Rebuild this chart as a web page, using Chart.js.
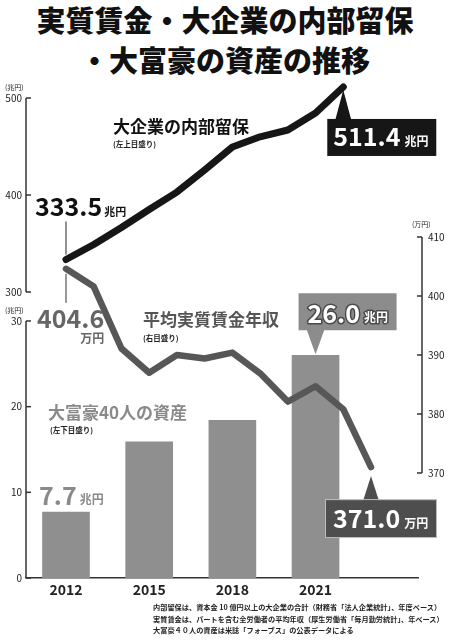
<!DOCTYPE html>
<html><head><meta charset="utf-8">
<script src="https://cdn.jsdelivr.net/npm/chart.js@4.4.1/dist/chart.umd.min.js"></script>
<style>
html,body{margin:0;padding:0;background:#fff;}
#wrap{position:relative;width:450px;height:640px;overflow:hidden;font-family:"Noto Sans CJK JP","Noto Sans",sans-serif;}
#cv{position:absolute;left:0;top:0;}
.title{position:absolute;left:0;width:450px;text-align:center;font-weight:900;font-size:29px;color:#111;line-height:1;}
.note{position:absolute;left:153px;top:602px;font-size:7.2px;line-height:11.6px;color:#222;white-space:nowrap;font-weight:700;}
</style></head>
<body><div id="wrap">
<div class="title" style="top:5px">実質賃金・大企業の内部留保</div>
<div class="title" style="top:45px">・大富豪の資産の推移</div>
<canvas id="cv" width="450" height="640"></canvas>
<div class="note">内部留保は、資本金 10 億円以上の大企業の合計（財務省「法人企業統計」、年度ベース）<br>実質賃金は、パートを含む全労働者の平均年収（厚生労働省「毎月勤労統計」、年ベース）<br>大富豪４０人の資産は米誌「フォーブス」の公表データによる</div>
</div>
<script>
// ---- data ----
const reserveYears = [2012, 2013, 2014, 2015, 2016, 2017, 2018, 2019, 2020, 2021, 2022];
const reserveValues = [333.5, 349.0, 366.5, 385.0, 403.0, 425.8, 449.5, 460.0, 467.0, 484.5, 511.4];
const wageYears = [2012, 2013, 2014, 2015, 2016, 2017, 2018, 2019, 2020, 2021, 2022, 2023];
const wageValues = [404.6, 401.6, 391.1, 387.0, 390.0, 389.4, 390.4, 386.9, 382.1, 384.7, 380.8, 371.0];
const assetYears = [2012, 2015, 2018, 2021];
const assetValues = [7.7, 15.9, 18.4, 26.0];
const xTickYears = [2012, 2015, 2018, 2021];
const reserveTicks = [300, 400, 500];
const assetTicks = [0, 10, 20, 30];
const wageTicks = [370, 380, 390, 400, 410];

const FONT = '"Noto Sans CJK JP","Noto Sans",sans-serif';
const toXY = (xs, ys) => xs.map((x, i) => ({x: x, y: ys[i]}));

const decor = {
  id: 'decor',
  afterDatasetsDraw(chart) {
    const c = chart.ctx;
    const sc = chart.scales;
    c.save();
    c.strokeStyle = '#333'; c.lineWidth = 1.5; c.lineCap = 'butt';
    function vAxis(scale, ticks, x, dir) {
      const y1 = scale.getPixelForValue(ticks[0]);
      const y2 = scale.getPixelForValue(ticks[ticks.length - 1]);
      c.beginPath(); c.moveTo(x, y1); c.lineTo(x, y2); c.stroke();
      ticks.forEach(t => {
        const y = scale.getPixelForValue(t);
        c.beginPath(); c.moveTo(x, y); c.lineTo(x + dir * 5, y); c.stroke();
      });
    }
    const lx = chart.chartArea.left;
    const rx = chart.chartArea.right + 4;
    vAxis(sc.yRes, reserveTicks, lx, 1);
    vAxis(sc.yAst, assetTicks, lx, 1);
    vAxis(sc.yWage, wageTicks, rx, -1);
    c.fillStyle = '#222'; c.font = '7px ' + FONT; c.textBaseline = 'alphabetic';
    c.textAlign = 'left';
    c.fillText('(兆円)', 5, sc.yRes.getPixelForValue(500) - 8);
    c.fillText('(兆円)', 5, sc.yAst.getPixelForValue(30) - 8);
    c.fillText('(万円)', rx - 10, sc.yWage.getPixelForValue(410) - 10);

    function pt(di, i) { const e = chart.getDatasetMeta(di).data[i]; return {x: e.x, y: e.y}; }
    function txt(s, x, y, font, color, align) {
      c.font = font; c.fillStyle = color; c.textAlign = align || 'left'; c.fillText(s, x, y);
      return c.measureText(s).width;
    }
    function box(px, tipY, left, top, w, h, fill, up) {
      c.fillStyle = fill;
      c.beginPath();
      if (up) { c.moveTo(px, tipY); c.lineTo(px - 8, top + 1); c.lineTo(px + 8, top + 1); }
      else { c.moveTo(px, tipY); c.lineTo(px - 9, top + h - 1); c.lineTo(px + 9, top + h - 1); }
      c.closePath(); c.fill();
      c.fillRect(left, top, w, h);
    }
    const BIG = 'bold 25px ' + FONT, SMALL = 'bold 12px ' + FONT;
    // 333.5 label
    let p = pt(0, 0);
    c.strokeStyle = '#222'; c.lineWidth = 1;
    c.beginPath(); c.moveTo(p.x, p.y - 38); c.lineTo(p.x, p.y - 5); c.stroke();
    let w = txt('333.5', p.x - 31, p.y - 44, BIG, '#111');
    txt('兆円', p.x - 31 + w + 2, p.y - 44, 'bold 11px ' + FONT, '#111');
    // 404.6 label
    p = pt(1, 0);
    c.strokeStyle = '#333';
    c.beginPath(); c.moveTo(p.x, p.y + 5); c.lineTo(p.x, p.y + 34); c.stroke();
    w = txt('404.6', p.x - 29, p.y + 59, BIG, '#666');
    txt('万円', p.x - 29 + w, p.y + 74, SMALL, '#666', 'right');
    // 511.4 box
    p = pt(0, reserveValues.length - 1);
    box(p.x, p.y + 3, p.x - 16, p.y + 32, 109, 37, '#161616', true);
    w = txt('511.4', p.x - 10, p.y + 59, BIG, '#fff');
    txt('兆円', p.x - 10 + w + 4, p.y + 59, SMALL, '#fff');
    // 371.0 box
    p = pt(1, wageValues.length - 1);
    box(p.x, p.y + 9, p.x - 45, p.y + 33, 110, 37, '#4e4e4e', true);
    c.strokeStyle = '#bbb'; c.lineWidth = 1;
    c.strokeRect(p.x - 45.5, p.y + 32.5, 111, 38);
    w = txt('371.0', p.x - 38, p.y + 61, BIG, '#fff');
    txt('万円', p.x - 38 + w + 4, p.y + 61, SMALL, '#fff');
    // 26.0 box
    p = pt(2, assetValues.length - 1);
    box(p.x, p.y - 1, p.x - 17, p.y - 62, 98, 37, '#8c8c8c', false);
    c.font = BIG; c.textAlign = 'left';
    c.lineJoin = 'round'; c.strokeStyle = '#4a4a4a'; c.lineWidth = 3;
    c.strokeText('26.0', p.x - 8, p.y - 32);
    c.fillStyle = '#fff'; c.fillText('26.0', p.x - 8, p.y - 32);
    w = c.measureText('26.0').width;
    c.font = SMALL;
    c.strokeText('兆円', p.x - 8 + w + 4, p.y - 33);
    c.fillText('兆円', p.x - 8 + w + 4, p.y - 33);
    // 7.7 label
    p = pt(2, 0);
    w = txt('7.7', p.x - 27, p.y - 7, BIG, '#8a8a8a');
    txt('兆円', p.x - 27 + w + 3, p.y - 8, SMALL, '#8a8a8a');
    // series labels
    txt('大企業の内部留保', 113, 133, 'bold 17px ' + FONT, '#111');
    txt('(左上目盛り)', 113, 147, 'bold 7.5px ' + FONT, '#222');
    txt('平均実質賃金年収', 143, 326, 'bold 17px ' + FONT, '#555');
    txt('(右目盛り)', 143, 341, 'bold 7.5px ' + FONT, '#222');
    txt('大富豪40人の資産', 48, 419, 'bold 17px ' + FONT, '#8a8a8a');
    txt('(左下目盛り)', 50, 433, 'bold 7.5px ' + FONT, '#222');
    c.restore();
  }
};

const tickFont = {family: FONT, size: 10};
new Chart(document.getElementById('cv'), {
  type: 'line',
  data: {
    datasets: [
      {type: 'line', label: '大企業の内部留保', data: toXY(reserveYears, reserveValues), yAxisID: 'yRes',
       borderColor: '#161616', borderWidth: 7, pointRadius: 0, borderCapStyle: 'round', borderJoinStyle: 'round',
       order: 1, clip: false},
      {type: 'line', label: '平均実質賃金年収', data: toXY(wageYears, wageValues), yAxisID: 'yWage',
       borderColor: '#575757', borderWidth: 6.5, pointRadius: 0, borderCapStyle: 'round', borderJoinStyle: 'round',
       order: 2, clip: false},
      {type: 'bar', label: '大富豪40人の資産', data: toXY(assetYears, assetValues), yAxisID: 'yAst',
       backgroundColor: '#8f8f8f', barThickness: 47, order: 3}
    ]
  },
  options: {
    responsive: false,
    animation: false,
    layout: {padding: {top: 80, left: 0, right: 0, bottom: 40}},
    plugins: {legend: {display: false}, tooltip: {enabled: false}},
    scales: {
      x: {
        type: 'linear', min: 2010.557, max: 2024.695, offset: false,
        afterBuildTicks: s => { s.ticks = xTickYears.map(v => ({value: v})); },
        afterFit: s => { s.height = 22; s.paddingLeft = 0; s.paddingRight = 0; },
        ticks: {callback: v => String(v), font: {family: FONT, size: 14, weight: 'bold'}, color: '#222',
                padding: 3, autoSkip: false, maxRotation: 0},
        grid: {display: false, drawTicks: false, offset: false},
        border: {display: true, color: '#333', width: 1.5}
      },
      yRes: {
        position: 'left', min: 5.15, max: 518.56,
        afterBuildTicks: s => { s.ticks = reserveTicks.map(v => ({value: v})); },
        afterFit: s => { s.width = 26; s.paddingTop = 0; s.paddingBottom = 0; },
        ticks: {font: tickFont, color: '#222', padding: 4},
        border: {display: false}, grid: {display: false, drawTicks: false}
      },
      yAst: {
        position: 'left', min: 0, max: 58.13,
        afterBuildTicks: s => { s.ticks = assetTicks.map(v => ({value: v})); },
        afterFit: s => { s.width = 0; s.paddingTop = 0; s.paddingBottom = 0; },
        ticks: {font: tickFont, color: '#222', padding: 11, mirror: true, crossAlign: 'far'},
        border: {display: false}, grid: {display: false, drawTicks: false}
      },
      yWage: {
        position: 'right', min: 352.20, max: 436.61,
        afterBuildTicks: s => { s.ticks = wageTicks.map(v => ({value: v})); },
        afterFit: s => { s.width = 32; s.paddingTop = 0; s.paddingBottom = 0; },
        ticks: {font: tickFont, color: '#222', padding: 10},
        border: {display: false}, grid: {display: false, drawTicks: false}
      }
    }
  },
  plugins: [decor]
});
</script>
</body></html>
